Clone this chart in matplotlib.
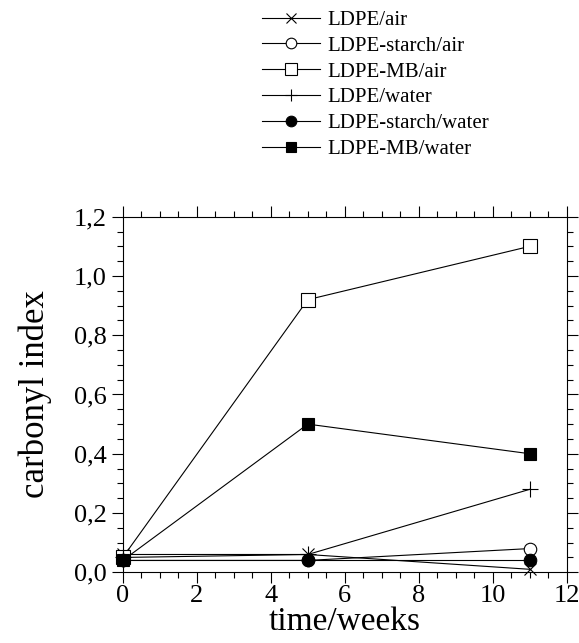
import matplotlib.pyplot as plt
from matplotlib.ticker import MultipleLocator

plt.rcParams['font.family'] = ['Liberation Serif', 'DejaVu Serif']

weeks = [0, 5, 11]
ldpe_air = [0.06, 0.06, 0.01]
starch_air = [0.04, 0.04, 0.08]
mb_air = [0.05, 0.92, 1.10]
ldpe_water = [0.05, 0.06, 0.28]
starch_water = [0.04, 0.04, 0.04]
mb_water = [0.04, 0.50, 0.40]

fig = plt.figure(figsize=(5.79, 6.43), dpi=100)
ax = fig.add_axes([0.212, 0.110, 0.767, 0.553])

lw = 0.8
common = dict(color='black', lw=lw, mew=0.8, clip_on=False)
ax.plot(weeks, ldpe_air, marker='x', ms=9, label='LDPE/air', **common)
ax.plot(weeks, starch_air, marker='o', ms=9, mfc='white',
        label='LDPE-starch/air', **common)
ax.plot(weeks, mb_air, marker='s', ms=10.5, mfc='white',
        label='LDPE-MB/air', **common)
ax.plot(weeks, ldpe_water, marker='+', ms=11, label='LDPE/water', **common)
ax.plot(weeks, starch_water, marker='o', ms=9,
        label='LDPE-starch/water', **common)
ax.plot(weeks, mb_water, marker='s', ms=9, label='LDPE-MB/water', **common)

ax.set_xlim(0, 12)
ax.set_ylim(0, 1.2)
ax.xaxis.set_major_locator(MultipleLocator(2))
ax.xaxis.set_minor_locator(MultipleLocator(0.5))
ax.yaxis.set_major_locator(MultipleLocator(0.2))
ax.yaxis.set_minor_locator(MultipleLocator(0.05))
ax.yaxis.set_major_formatter(lambda v, p: f'{v:.1f}'.replace('.', ','))
ax.xaxis.set_major_formatter(lambda v, p: f'{v:.0f}')
ax.tick_params(which='both', direction='out', top=True, right=True,
               labeltop=False, labelright=False, labelsize=19, width=0.8)
ax.tick_params(which='major', length=8)
ax.tick_params(which='minor', length=4)
ax.tick_params(axis='x', which='major', pad=1)
for s in ax.spines.values():
    s.set_linewidth(0.8)

ax.set_xlabel('time/weeks', fontsize=24, labelpad=0)
ax.set_ylabel('carbonyl index', fontsize=25, labelpad=16)

fig.legend(loc='upper left', bbox_to_anchor=(0.438, 0.997), frameon=False,
           fontsize=15, handlelength=2.8, handletextpad=0.35, labelspacing=0.3,
           borderaxespad=0, markerscale=0.85)

fig.savefig('out.png', dpi=100)
